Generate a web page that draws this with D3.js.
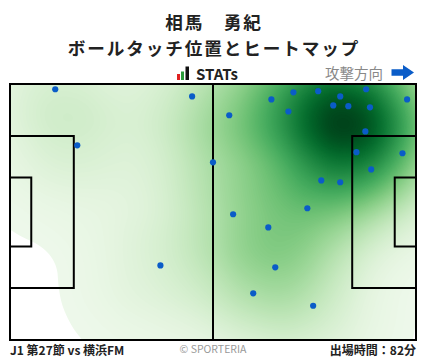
<!DOCTYPE html>
<html lang="ja">
<head>
<meta charset="utf-8">
<script src="https://cdn.jsdelivr.net/npm/d3@7"></script>
<style>
  body { margin: 0; background: #fff; }
  text { font-family: "Noto Sans CJK JP", "Noto Sans", sans-serif; }
</style>
</head>
<body>
<div id="chart"></div>
<script>
// ball touch positions in pitch metres (105 x 68), attacking left -> right
const touchX = [11.7, 47.1, 17.4, 52.5, 67.6, 73.3, 79.7, 85.4, 92.1, 102.7,
  56.7, 72.0, 83.6, 87.5, 93.1, 91.9, 89.6, 101.5, 93.4, 80.5,
  85.4, 76.9, 57.7, 66.8, 68.6, 62.9, 78.4, 38.9];
const touchY = [1.4, 3.3, 16.3, 20.8, 4.1, 2.2, 1.9, 3.3, 1.4, 4.1,
  8.3, 7.3, 5.7, 5.9, 6.2, 12.6, 18.1, 18.4, 22.7, 25.6,
  26.1, 33.0, 34.6, 38.1, 48.7, 55.6, 58.9, 48.2];

const titleLines = ["相馬　勇紀", "ボールタッチ位置とヒートマップ"];
const matchLabel = "J1 第27節 vs 横浜FM";
const minutesLabel = "出場時間：82分";

const width = 428, height = 359;
const pitch = { left: 10, right: 416, top: 84, bottom: 340 };

const svg = d3.select("#chart").append("svg")
  .attr("width", width).attr("height", height);

const x = d3.scaleLinear().domain([0, 105]).range([pitch.left, pitch.right]);
const y = d3.scaleLinear().domain([0, 68]).range([pitch.top, pitch.bottom]);

const pts = touchX.map((d, i) => [d, touchY[i]]);

// heatmap
svg.append("clipPath").attr("id", "pclip")
  .append("rect")
  .attr("x", pitch.left).attr("y", pitch.top)
  .attr("width", pitch.right - pitch.left).attr("height", pitch.bottom - pitch.top);

const density = d3.contourDensity()
  .x(d => x(d[0]))
  .y(d => y(d[1]))
  .size([width, height])
  .cellSize(2)
  .bandwidth(43)
  .thresholds(110)(pts);

const maxV = d3.max(density, d => d.value);
const color = v => d3.interpolateGreens(0.06 + 0.94 * v / maxV);

svg.append("g")
  .attr("clip-path", "url(#pclip)")
  .selectAll("path")
  .data(density.filter(d => d.value > maxV * 0.006))
  .join("path")
    .attr("d", d3.geoPath())
    .attr("fill", d => color(d.value));

// pitch lines
const lines = svg.append("g")
  .attr("fill", "none")
  .attr("stroke", "#000")
  .attr("stroke-width", 2);

lines.append("rect")
  .attr("x", x(0)).attr("y", y(0))
  .attr("width", x(105) - x(0)).attr("height", y(68) - y(0));
lines.append("line")
  .attr("x1", x(52.5)).attr("x2", x(52.5))
  .attr("y1", y(0)).attr("y2", y(68));

// penalty and goal areas
[[0, 16.5], [105, 105 - 16.5]].forEach(([a, b]) => {
  lines.append("path")
    .attr("d", `M${x(a)},${y(13.84)}H${x(b)}V${y(54.16)}H${x(a)}`);
});
[[0, 5.5], [105, 105 - 5.5]].forEach(([a, b]) => {
  lines.append("path")
    .attr("d", `M${x(a)},${y(24.84)}H${x(b)}V${y(43.16)}H${x(a)}`);
});

// touches
svg.append("g")
  .attr("fill", "#0a5cc8")
  .selectAll("circle")
  .data(pts)
  .join("circle")
    .attr("cx", d => x(d[0]))
    .attr("cy", d => y(d[1]))
    .attr("r", 3.1);

// title
titleLines.forEach((t, i) => {
  svg.append("text")
    .attr("x", 214).attr("y", 28.5 + i * 26)
    .attr("text-anchor", "middle")
    .attr("font-size", 17.6).attr("font-weight", "bold")
    .attr("letter-spacing", 1.9)
    .attr("fill", "#222")
    .text(t);
});

// STATs logo
const logo = svg.append("g");
logo.append("rect").attr("x", 177).attr("y", 74).attr("width", 3).attr("height", 6).attr("fill", "#e02020");
logo.append("rect").attr("x", 181).attr("y", 71.5).attr("width", 3).attr("height", 8.5).attr("fill", "#2a9a3a");
logo.append("rect").attr("x", 185.5).attr("y", 66.5).attr("width", 3.5).attr("height", 13.5).attr("fill", "#111");
logo.append("text")
  .attr("x", 196).attr("y", 80)
  .attr("font-family", "DejaVu Sans, sans-serif")
  .attr("font-size", 15).attr("font-weight", "bold")
  .attr("fill", "#222")
  .text("STATs");

// attack direction
svg.append("text")
  .attr("x", 383).attr("y", 78.5)
  .attr("text-anchor", "end")
  .attr("font-size", 14.5)
  .attr("fill", "#888")
  .text("攻撃方向");
svg.append("path")
  .attr("d", "M391.5,69.3H403V65L414,72.5L403,80V75.7H391.5Z")
  .attr("fill", "#0a5cc8");

// footer
svg.append("text")
  .attr("x", 10).attr("y", 354.5)
  .attr("font-size", 12).attr("font-weight", "bold")
  .attr("fill", "#222")
  .text(matchLabel);
svg.append("text")
  .attr("x", 213).attr("y", 353)
  .attr("text-anchor", "middle")
  .attr("font-family", "Roboto, sans-serif")
  .attr("font-size", 10.5)
  .attr("fill", "#999")
  .text("© SPORTERIA");
svg.append("text")
  .attr("x", 416).attr("y", 354.5)
  .attr("text-anchor", "end")
  .attr("font-size", 12).attr("font-weight", "bold")
  .attr("fill", "#222")
  .text(minutesLabel);
</script>
</body>
</html>
